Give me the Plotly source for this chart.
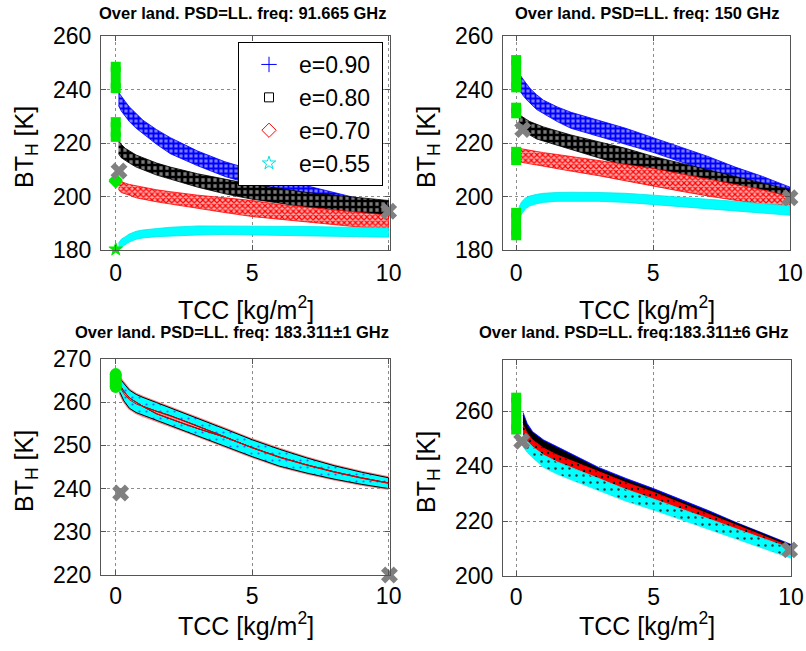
import plotly.graph_objects as go

W, H = 806, 651

# ---------------- data ----------------
E_LABELS = ["e=0.90", "e=0.80", "e=0.70", "e=0.55"]

# Panel 1: 91.665 GHz
TCC_TOP = [0.1, 0.2, 0.35, 0.5, 0.75, 1, 1.5, 2, 3, 4, 5, 6, 7, 8, 9, 10]
P1_E90_HI = [239, 237.5, 235.5, 233.5, 231, 228.5, 225, 222, 217, 213, 210, 207, 204, 201.5, 199, 197]
P1_E90_LO = [234, 232, 230, 228, 225.5, 223.5, 219.5, 216, 211.5, 207.5, 204.5, 201.5, 199, 197, 195, 193.5]
P1_E80_HI = [221, 219.5, 218, 217, 215.5, 214.5, 212.5, 211, 208.5, 206.5, 204.5, 203, 201.5, 200.5, 199.5, 198.5]
P1_E80_LO = [216, 214.5, 213.5, 212.5, 211, 210, 208, 206.5, 203.5, 201, 199, 197.5, 196, 194.5, 193, 192]
P1_E70_HI = [206, 205.5, 205, 204.5, 204, 203.5, 202.5, 201.8, 200.5, 199.5, 198.5, 197, 196, 195, 194, 193]
P1_E70_LO = [202.5, 201.5, 201, 200.5, 199.5, 199, 198, 197, 195.5, 194, 192.5, 191.5, 190.5, 189.5, 188.5, 187.5]
P1_E55_HI = [182.5, 184, 185, 186, 187, 187.5, 188, 188.5, 189, 189, 189, 189, 188.8, 188.6, 188.4, 188.2]
P1_E55_LO = [180, 181, 182, 183, 184, 184.5, 185, 185.3, 185.6, 185.8, 185.8, 185.6, 185.4, 185.2, 185, 184.8]
P1_CLEAR_LO = [240.5, 222.3, 205.6, 180.2]
P1_CLEAR_HI = [248.5, 227.8, 206.2, 180.4]
P1_REF_X = [0.12, 10.0]
P1_REF_Y = [209.5, 194.5]

# Panel 2: 150 GHz
P2_E90_HI = [246, 244.5, 242.5, 240.5, 238, 236, 233.5, 231.5, 228.5, 225.5, 222, 218.5, 215, 211, 207.5, 203.5]
P2_E90_LO = [240, 238.5, 236.5, 235, 232.5, 231, 228, 225.5, 222.5, 219.5, 216.5, 213, 209.5, 206, 202.5, 199]
P2_E80_HI = [231, 230, 229, 228, 227, 226, 224.5, 223, 220.5, 218, 215, 212.5, 210, 207.5, 205, 202.5]
P2_E80_LO = [226, 225, 224, 223, 221.5, 220.5, 219, 217.5, 214.5, 211.5, 209, 206.5, 204, 201.5, 199.5, 198]
P2_E70_HI = [218, 217.8, 217.5, 217.2, 216.8, 216.4, 215.7, 215, 213.5, 212, 210.5, 208.5, 206.5, 204.5, 202.5, 200]
P2_E70_LO = [213, 212.8, 212.5, 212.2, 211.8, 211.4, 210.5, 209.5, 207.8, 206, 204, 202, 200.2, 198.5, 197, 196]
P2_E55_HI = [196, 198, 199.5, 200.2, 200.8, 201.2, 201.5, 201.6, 201.5, 201.2, 200.5, 199.8, 199, 198.2, 197.3, 196.5]
P2_E55_LO = [191.5, 193.5, 195.5, 196.5, 197.3, 197.8, 198.2, 198.3, 198.2, 197.8, 197, 196.3, 195.5, 194.7, 193.8, 193]
P2_CLEAR_LO = [240.8, 231.1, 213.6, 185.5]
P2_CLEAR_HI = [251.0, 233.2, 216.7, 193.9]
P2_REF_X = [0.24, 10.0]
P2_REF_Y = [225, 199.5]

# Panel 3: 183.311 +/- 1 GHz (all emissivities coincide)
TCC_P3 = [0.15, 0.3, 0.5, 0.75, 1, 1.5, 2, 2.5, 3, 4, 5, 6, 7, 8, 9, 10]
P3_UP = [265.5, 264.3, 262.8, 261.8, 261.1, 259.9, 258.7, 257.5, 256.3, 253.8, 251.3, 249.1, 247.1, 245.3, 243.8, 242.5]
P3_A_LO = [263.5, 262.0, 260.6, 259.6, 259.0, 257.9, 256.9, 255.7, 254.5, 252.0, 249.4, 247.2, 245.4, 243.8, 242.4, 241.2]
P3_B_HI = [264.0, 262.5, 261.0, 259.9, 259.0, 257.3, 256.1, 255.0, 253.9, 251.9, 249.5, 247.3, 245.5, 243.9, 242.5, 241.3]
P3_LO = [262.3, 260.3, 258.6, 257.6, 256.9, 255.8, 254.6, 253.4, 252.2, 249.8, 247.4, 245.2, 243.6, 242.2, 241.0, 240.0]
P3_CLEAR_LO = [263.5]
P3_CLEAR_HI = [266.5]
P3_REF_X = [0.18, 10.03]
P3_REF_Y = [239, 220]

# Panel 4: 183.311 +/- 6 GHz
TCC_P4 = [0.25, 0.4, 0.6, 1, 1.5, 2, 3, 4, 5, 6, 7, 8, 9, 10]
P4_E90_HI = [259.5, 255.5, 252.5, 249.5, 247, 244.5, 239.5, 235.5, 231.8, 227.8, 223.8, 219.5, 215.5, 211.5]
P4_E90_LO = [256, 252.5, 250, 247, 244.5, 242.5, 238, 234, 230.3, 226.5, 222.5, 218.5, 214.5, 210.5]
P4_E80_HI = [258.5, 254.5, 252, 249, 246.5, 244, 239, 235, 231.3, 227.3, 223.3, 219.2, 215.2, 211.2]
P4_E80_LO = [254, 251, 248.5, 245.5, 243, 241, 237, 233, 229.5, 225.5, 221.8, 217.8, 213.8, 209.8]
P4_E70_HI = [255, 252, 249.5, 246.5, 244, 242, 238, 234, 230.5, 226.5, 222.6, 218.6, 214.6, 210.6]
P4_E70_LO = [250, 248, 246, 243, 240.8, 239, 235.5, 231.5, 228, 224.2, 220.5, 216.8, 213, 209]
P4_E55_HI = [251.5, 249, 247, 244, 241.5, 239.5, 235.5, 231.5, 228, 224.5, 220.8, 217.2, 213.5, 210]
P4_E55_LO = [247, 245, 243, 239.5, 237, 235, 231, 227.2, 224, 220.5, 217, 213.5, 210, 206.5]
P4_CLEAR_LO = [253.3]
P4_CLEAR_HI = [264.9]
P4_REF_X = [0.2, 9.95]
P4_REF_Y = [249, 209.5]

TITLES = [
    "Over land. PSD=LL. freq: 91.665 GHz",
    "Over land. PSD=LL. freq: 150 GHz",
    "Over land. PSD=LL. freq: 183.311\u00b11 GHz",
    "Over land. PSD=LL. freq:183.311\u00b16 GHz",
]
Y_TICKS = [[180, 200, 220, 240, 260], [180, 200, 220, 240, 260],
           [220, 230, 240, 250, 260, 270], [200, 220, 240, 260]]
X_TICKS = [0, 5, 10]

# ---------------- layout geometry (pixels) ----------------
BOX = [  # left, right, top, bottom
    (101, 390, 36, 250),
    (503, 790, 36, 250),
    (101, 390, 359, 575),
    (503, 791, 360, 576),
]
TITLE_POS = [(242, 13), (647, 13), (232, 332), (633, 332)]
X_RANGES = [[-0.54, 10.05], [-0.48, 10.0], [-0.54, 10.05], [-0.48, 10.0]]
Y_RANGES = [[180, 260], [180, 260], [220, 270], [200, 278.6]]

FONT = "Liberation Sans, Arial, Helvetica, sans-serif"
GREEN = "#00e800"
GRAY = "#808080"

fig = go.Figure()


def ax(i):
    return ("x" if i == 0 else f"x{i+1}", "y" if i == 0 else f"y{i+1}")


def band(i, xs, lo, hi, fill, line, pattern=None, lw=0.8):
    xa, ya = ax(i)
    px = list(xs) + list(xs)[::-1]
    py = list(hi) + list(lo)[::-1]
    kw = {}
    if pattern:
        kw["fillpattern"] = pattern
    fig.add_trace(go.Scatter(x=px, y=py, mode="lines", fill="toself", fillcolor=fill,
                             line=dict(color=line, width=lw), xaxis=xa, yaxis=ya,
                             showlegend=False, hoverinfo="skip", **kw))


def edge(i, xs, ys, color, width, dash="solid"):
    xa, ya = ax(i)
    fig.add_trace(go.Scatter(x=xs, y=ys, mode="lines", line=dict(color=color, width=width, dash=dash),
                             xaxis=xa, yaxis=ya, showlegend=False, hoverinfo="skip"))


def clear_sky(i, los, his, width=10, symbol="square"):
    xa, ya = ax(i)
    for lo, hi in zip(los, his):
        fig.add_trace(go.Scatter(x=[0, 0], y=[lo, hi], mode="lines+markers",
                                 line=dict(color=GREEN, width=width),
                                 marker=dict(symbol=symbol, size=width, color=GREEN),
                                 xaxis=xa, yaxis=ya, showlegend=False, hoverinfo="skip",
                                 cliponaxis=False))


def ref_points(i, xs, ys):
    xa, ya = ax(i)
    fig.add_trace(go.Scatter(x=xs, y=ys, mode="markers",
                             marker=dict(symbol="x", size=15, color=GRAY, line=dict(width=0)),
                             xaxis=xa, yaxis=ya, showlegend=False, cliponaxis=False,
                             hoverinfo="skip"))


def pat(shape, fg, bg, size=5, sol=0.45):
    return dict(shape=shape, fgcolor=fg, bgcolor=bg, size=size, solidity=sol, fillmode="replace")


STYLE_TOP = [
    ("#2020ff", "#0000ff", pat("+", "#0000ff", "#7c7cff", 5, 0.6)),
    ("#101010", "#000000", pat("+", "#000000", "#7a7a7a", 6, 0.7)),
    ("#ff4040", "#ff0000", pat("x", "#ff0000", "#ffa8a8", 4, 0.5)),
    ("#00ffff", "#00e8e8", None),
]

# Panel 1
for (lo, hi), (fc, lc, pt) in zip([(P1_E90_LO, P1_E90_HI), (P1_E80_LO, P1_E80_HI),
                                   (P1_E70_LO, P1_E70_HI), (P1_E55_LO, P1_E55_HI)], STYLE_TOP):
    band(0, TCC_TOP, lo, hi, fc, lc, pt)
clear_sky(0, P1_CLEAR_LO[:2], P1_CLEAR_HI[:2])
clear_sky(0, P1_CLEAR_LO[2:3], P1_CLEAR_HI[2:3], width=11, symbol="diamond")
clear_sky(0, P1_CLEAR_LO[3:], P1_CLEAR_HI[3:], width=11, symbol="star")
ref_points(0, P1_REF_X, P1_REF_Y)

# Panel 2
for (lo, hi), (fc, lc, pt) in zip([(P2_E90_LO, P2_E90_HI), (P2_E80_LO, P2_E80_HI),
                                   (P2_E70_LO, P2_E70_HI), (P2_E55_LO, P2_E55_HI)], STYLE_TOP):
    band(1, TCC_TOP, lo, hi, fc, lc, pt)
clear_sky(1, P2_CLEAR_LO, P2_CLEAR_HI)
ref_points(1, P2_REF_X, P2_REF_Y)

# Panel 3
for ys in (P3_UP, P3_LO, P3_A_LO, P3_B_HI):
    edge(2, TCC_P3, ys, "#ff8080", 3)
cyan_pat = pat(".", "#3060ff", "#00ffff", 7, 0.08)
band(2, TCC_P3, P3_A_LO, P3_UP, "#00ffff", "#000000", cyan_pat, lw=1)
band(2, TCC_P3, P3_LO, P3_B_HI, "#00ffff", "#000000", cyan_pat, lw=1)
edge(2, TCC_P3, P3_A_LO, "#e00000", 1)
edge(2, TCC_P3, P3_B_HI, "#e00000", 1)
clear_sky(2, P3_CLEAR_LO, P3_CLEAR_HI, width=12, symbol="circle")
ref_points(2, P3_REF_X, P3_REF_Y)

# Panel 4
STYLE_P4 = [
    ("#0000ff", "#0000ff", None),
    ("#000000", "#000000", None),
    ("#ff0000", "#ff0000", pat(".", "#000000", "#ff0000", 6, 0.12)),
    ("#00ffff", "#20f0f0", pat(".", "#303030", "#00ffff", 7, 0.1)),
]
for (lo, hi), (fc, lc, pt) in zip([(P4_E90_LO, P4_E90_HI), (P4_E80_LO, P4_E80_HI),
                                   (P4_E70_LO, P4_E70_HI), (P4_E55_LO, P4_E55_HI)], STYLE_P4):
    band(3, TCC_P4, lo, hi, fc, lc, pt)
clear_sky(3, P4_CLEAR_LO, P4_CLEAR_HI)
ref_points(3, P4_REF_X, P4_REF_Y)

# legend entries
LEG_MARKERS = [
    dict(symbol="cross-thin", size=11, color="#0000ff", line=dict(color="#0000ff", width=1)),
    dict(symbol="square-open", size=9, color="#000000", line=dict(width=1)),
    dict(symbol="diamond-open", size=11, color="#ff0000", line=dict(width=1)),
    dict(symbol="star-open", size=10, color="#00e0e0", line=dict(width=1)),
]
for lab, mk in zip(E_LABELS, LEG_MARKERS):
    fig.add_trace(go.Scatter(x=[None], y=[None], mode="markers", marker=mk, name=lab + "\u00a0",
                             xaxis="x", yaxis="y", showlegend=True))

# axes
layout = {}
ann = []
for i, (l, r, t, b) in enumerate(BOX):
    sx = "" if i == 0 else str(i + 1)
    common = dict(showline=True, mirror="ticks", linecolor="#555555", linewidth=1,
                  ticks="inside", ticklen=5, tickcolor="#555555", automargin=False,
                  showgrid=True, gridcolor="#8c8c8c", griddash="dot", gridwidth=1,
                  zeroline=False, tickfont=dict(family=FONT, size=23, color="#000000"))
    layout["xaxis" + sx] = dict(domain=[l / W, r / W], range=X_RANGES[i], tickvals=X_TICKS,
                                anchor="y" + sx, ticklabelstandoff=(2 if i < 2 else 0), **common)
    layout["yaxis" + sx] = dict(domain=[1 - b / H, 1 - t / H], range=Y_RANGES[i],
                                tickvals=Y_TICKS[i], anchor="x" + sx, ticklabelstandoff=4, **common)
    cx = (l + r) / 2
    tx, ty = TITLE_POS[i]
    ann.append(dict(text="<b>" + TITLES[i] + "</b>", x=tx / W, y=1 - ty / H,
                    xref="paper", yref="paper", showarrow=False, xanchor="center", yanchor="middle",
                    font=dict(family=FONT, size=16.5, color="#000000")))
    xl_y = 308 if i < 2 else 624
    ann.append(dict(text="TCC [kg/m<sup>2</sup>]", x=cx / W, y=1 - xl_y / H,
                    xref="paper", yref="paper", showarrow=False, xanchor="center", yanchor="middle",
                    font=dict(family=FONT, size=25, color="#000000")))
    yl_x = 26 if i % 2 == 0 else 428
    yl_y = (t + b) / 2 + 4
    ann.append(dict(text="BT<sub>H</sub> [K]", x=yl_x / W, y=1 - yl_y / H, textangle=-90,
                    xref="paper", yref="paper", showarrow=False, xanchor="center", yanchor="middle",
                    font=dict(family=FONT, size=25, color="#000000")))

fig.update_layout(
    width=W, height=H,
    margin=dict(l=0, r=0, t=0, b=0, autoexpand=False),
    paper_bgcolor="white", plot_bgcolor="white",
    annotations=ann,
    showlegend=True,
    legend=dict(x=238 / W, y=1 - 42 / H, xanchor="left", yanchor="top",
                bgcolor="white", bordercolor="#000000", borderwidth=1,
                font=dict(family=FONT, size=23, color="#000000"),
                itemsizing="trace", itemwidth=50, tracegroupgap=0),
    **layout,
)

fig.write_html("out.html", config={"displayModeBar": False},
               post_script="document.body.style.margin='0';document.body.style.padding='0';")
